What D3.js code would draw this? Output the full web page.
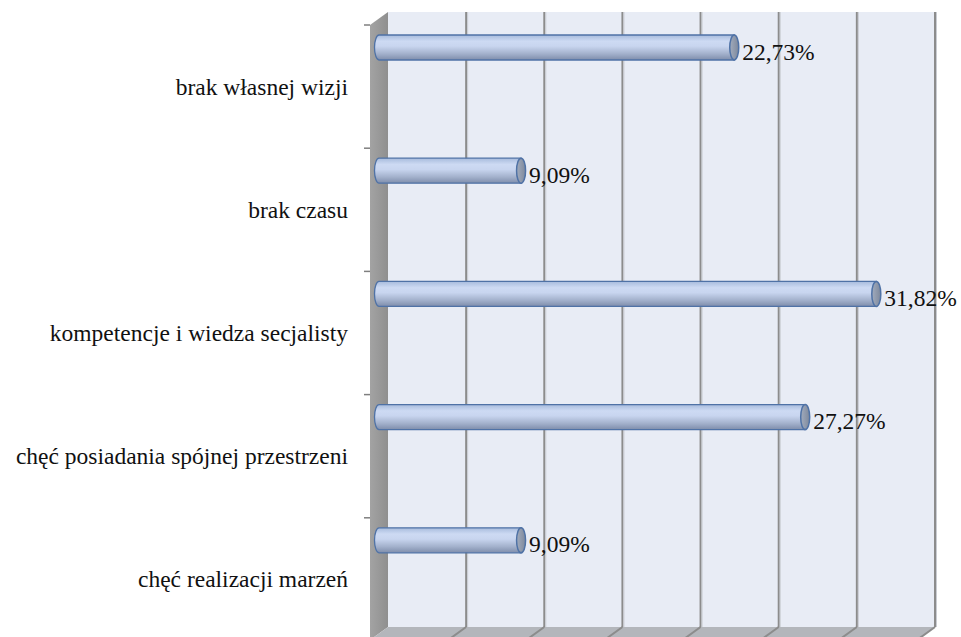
<!DOCTYPE html>
<html>
<head>
<meta charset="utf-8">
<script src="https://cdn.jsdelivr.net/npm/d3@7"></script>
<style>
    html, body { margin: 0; padding: 0; background: #ffffff; }
    svg { display: block; }
</style>
</head>
<body>
<div id="chart"></div>
<script>
// chart data
const categories = [
    "brak własnej wizji",
    "brak czasu",
    "kompetencje i wiedza secjalisty",
    "chęć posiadania spójnej przestrzeni",
    "chęć realizacji marzeń",
];
const values = [22.73, 9.09, 31.82, 27.27, 9.09];
const xTicks = [0, 5, 10, 15, 20, 25, 30, 35];

let width = 961,
    height = 637,
    wall = { left: 388, right: 935, top: 12, bottom: 627 },
    depth = { dx: 18, dy: 13 }, // front edge sits down-left of the back wall
    barOffset = 9, // bars sit half way in the depth
    barThick = 25,
    serif = '"Liberation Serif"';

var svg = d3
    .select("#chart")
    .append("svg")
    .attr("width", width)
    .attr("height", height);

var x = d3.scaleLinear().domain([0, 35]).range([wall.left, wall.right]);

var y = d3
    .scaleBand()
    .domain(categories)
    .range([wall.top + depth.dy, wall.bottom + depth.dy + 1]);

var fmt = d3.formatLocale({ decimal: ",", thousands: " ", grouping: [3], currency: ["", ""] }).format(".2f");

var defs = svg.append("defs");

var barGrad = defs
    .append("linearGradient")
    .attr("id", "barGrad")
    .attr("x1", 0).attr("y1", 0)
    .attr("x2", 0).attr("y2", 1);
[
    ["0%", "#a7bbdc"],
    ["25%", "#cddaf3"],
    ["45%", "#c8d5ef"],
    ["75%", "#a3b1cc"],
    ["100%", "#7e8dab"],
].forEach(function (s) {
    barGrad.append("stop").attr("offset", s[0]).attr("stop-color", s[1]);
});

var capGrad = defs
    .append("linearGradient")
    .attr("id", "capGrad")
    .attr("x1", 0).attr("y1", 0)
    .attr("x2", 1).attr("y2", 0);
capGrad.append("stop").attr("offset", "0%").attr("stop-color", "#a2acbd");
capGrad.append("stop").attr("offset", "100%").attr("stop-color", "#7d889c");

var sideGrad = defs
    .append("linearGradient")
    .attr("id", "sideGrad")
    .attr("x1", 0).attr("y1", 0)
    .attr("x2", 1).attr("y2", 0);
sideGrad.append("stop").attr("offset", "0%").attr("stop-color", "#a3a3a3");
sideGrad.append("stop").attr("offset", "100%").attr("stop-color", "#8f8f8f");

// back wall
svg.append("rect")
    .attr("x", wall.left)
    .attr("y", wall.top)
    .attr("width", wall.right - wall.left)
    .attr("height", wall.bottom - wall.top)
    .attr("fill", "#e8ecf5");

// left side wall
svg.append("path")
    .attr("d", `M${wall.left - depth.dx},${wall.top + depth.dy}
        L${wall.left},${wall.top}
        L${wall.left},${wall.bottom}
        L${wall.left - depth.dx},${wall.bottom + depth.dy} Z`)
    .attr("fill", "url(#sideGrad)");

// floor
svg.append("path")
    .attr("d", `M${wall.left},${wall.bottom}
        L${wall.right},${wall.bottom}
        L${wall.right - depth.dx},${wall.bottom + depth.dy}
        L${wall.left - depth.dx},${wall.bottom + depth.dy} Z`)
    .attr("fill", "#b3b6bb");

// gridlines on the back wall and on the floor
var grid = svg.append("g").attr("class", "grid");
grid.selectAll("line.back")
    .data(xTicks.slice(1))
    .enter()
    .append("line")
    .attr("class", "back")
    .attr("x1", (d) => x(d))
    .attr("x2", (d) => x(d))
    .attr("y1", wall.top)
    .attr("y2", wall.bottom)
    .attr("stroke", "#8c8c8c")
    .attr("stroke-width", 2);
grid.selectAll("line.shade")
    .data(xTicks.slice(1))
    .enter()
    .append("line")
    .attr("class", "shade")
    .attr("x1", (d) => x(d) + 1.5)
    .attr("x2", (d) => x(d) + 1.5)
    .attr("y1", wall.top)
    .attr("y2", wall.bottom)
    .attr("stroke", "#c9ccd2")
    .attr("stroke-width", 1);
grid.selectAll("line.floor")
    .data(xTicks.slice(1))
    .enter()
    .append("line")
    .attr("class", "floor")
    .attr("x1", (d) => x(d))
    .attr("x2", (d) => x(d) - depth.dx)
    .attr("y1", wall.bottom)
    .attr("y2", wall.bottom + depth.dy)
    .attr("stroke", "#8c8c8c")
    .attr("stroke-width", 2);

// category tick marks on the front edge of the side wall
var tickYs = categories.map((c) => y(c)).concat([y.range()[1]]);
svg.append("g")
    .selectAll("line")
    .data(tickYs)
    .enter()
    .append("line")
    .attr("x1", wall.left - depth.dx - 6)
    .attr("x2", wall.left - depth.dx)
    .attr("y1", (d) => d)
    .attr("y2", (d) => d)
    .attr("stroke", "#7f7f7f")
    .attr("stroke-width", 1.5);

// cylinder bars
var rx = 4.5,
    ry = barThick / 2;
var bars = svg
    .selectAll("g.bar")
    .data(values)
    .enter()
    .append("g")
    .attr("class", "bar");

bars.append("path")
    .attr("d", function (d, i) {
        let x0 = x(0) - barOffset,
            x1 = x(d) - barOffset,
            top = y(categories[i]) + 10;
        return `M${x1},${top} L${x0},${top}
            A${rx},${ry} 0 0 0 ${x0},${top + barThick}
            L${x1},${top + barThick} Z`;
    })
    .attr("fill", "url(#barGrad)")
    .attr("stroke", "#4f72a6")
    .attr("stroke-width", 1.3);

bars.append("ellipse")
    .attr("cx", (d) => x(d) - barOffset)
    .attr("cy", (d, i) => y(categories[i]) + 10 + ry)
    .attr("rx", rx)
    .attr("ry", ry)
    .attr("fill", "url(#capGrad)")
    .attr("stroke", "#4f72a6")
    .attr("stroke-width", 1.5);

// value labels
bars.append("text")
    .attr("x", (d) => x(d) - barOffset + 8)
    .attr("y", (d, i) => y(categories[i]) + 10 + ry + 12)
    .style("font-family", serif)
    .style("font-size", "23.5px")
    .attr("fill", "#111")
    .text((d) => fmt(d) + "%");

// category labels
svg.append("g")
    .selectAll("text")
    .data(categories)
    .enter()
    .append("text")
    .attr("x", 348)
    .attr("y", (d) => y(d) + y.bandwidth() / 2 + 8)
    .attr("text-anchor", "end")
    .style("font-family", serif)
    .style("font-size", "23.5px")
    .attr("fill", "#111")
    .text((d) => d);
</script>
</body>
</html>
